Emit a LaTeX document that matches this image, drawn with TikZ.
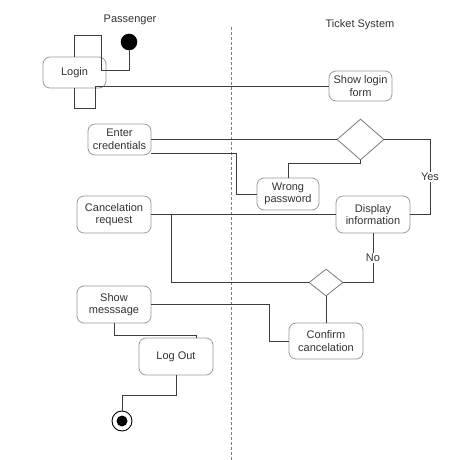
\documentclass[tikz,border=0pt]{standalone}
\usepackage{fontspec}
\setmainfont{Liberation Sans}
\usetikzlibrary{shapes.geometric,calc}
\definecolor{edgec}{HTML}{3C3C3C}
\definecolor{boxc}{HTML}{9A9A9A}
\definecolor{txtc}{HTML}{333333}
\begin{document}
\begin{tikzpicture}[x=1pt,y=-1pt,
  every node/.style={font=\fontsize{11}{12.5}\selectfont, text=txtc},
  act/.style={draw=boxc, line width=0.8pt, rounded corners=7pt, fill=white,
    align=center, inner sep=0pt},
  decision/.style={diamond, draw=boxc!80!black, line width=0.8pt, fill=white,
    inner sep=0pt},
  flow/.style={draw=edgec, line width=0.9pt},
  lbl/.style={fill=white, inner sep=1pt},
  lane/.style={draw=gray, line width=0.8pt, dash pattern=on 3pt off 2pt}]
\useasboundingbox (0,0) rectangle (475,460);

% swimlane headers and separator
\node (passenger) at (130,20) {Passenger};
\node (ticketsys) at (360,25) {Ticket System};
\draw[lane] (231,27) -- (231,460);

% start and end
\node[circle, fill=black, minimum size=16.6pt, inner sep=0pt] (init) at (129,42) {};
\node[circle, draw=black, line width=0.9pt, fill=white, minimum size=20pt, inner sep=0pt] (final) at (122,421) {};
\fill[black] (final.center) circle (5.5);

% activities
\node[act, minimum width=63pt, minimum height=31pt] (login) at (74.5,72.5) {Login};
\node[act, minimum width=63pt, minimum height=30pt] (showlogin) at (360.5,86) {Show login\\form};
\node[act, minimum width=63pt, minimum height=31pt] (enter) at (119.5,139.5) {Enter\\credentials};
\node[act, minimum width=62pt, minimum height=32pt] (wrong) at (288,194) {Wrong\\password};
\node[act, minimum width=74pt, minimum height=37pt] (display) at (373,214.5) {Display\\information};
\node[act, minimum width=74pt, minimum height=37pt] (cancel) at (114,214.5) {Cancelation\\request};
\node[act, minimum width=74pt, minimum height=36pt] (confirm) at (326,341) {Confirm\\cancelation};
\node[act, minimum width=74pt, minimum height=37pt] (showmsg) at (114,304.5) {Show\\messsage};
\node[act, minimum width=74pt, minimum height=37pt] (logout) at (176,356.5) {Log Out};

% decisions
\node[decision, minimum width=47pt, minimum height=41pt] (dec1) at (360.5,139.5) {};
\node[decision, minimum width=34pt, minimum height=27pt] (dec2) at (326,282.5) {};

% connectors
\draw[flow] (init.south) |- (101,70) -- (101,35) -| (login.north);
\draw[flow] (login.south) -- (74.5,108) -| (95,86) -- (showlogin.west);
\draw[flow] (enter.east) -- (dec1.west);
\draw[flow] ($(enter.east)+(0,13.5)$) -| ($(wrong.west)+(-20,0)$) -- (wrong.west);
\draw[flow] (wrong.north) |- ($(dec1.south)+(0,3)$) -- (dec1.south);
\draw[flow] (dec1.east) -- (430,139.5) -- node[lbl] {Yes} (430,214.5) -- (display.east);
\draw[flow] (cancel.east) -- (display.west);
\coordinate (split) at (171,214.5);
\draw[flow] (split) |- (dec2.west);
\draw[flow] (display.south) |- node[lbl, pos=0.25] {No} (dec2.east);
\draw[flow] (dec2.south) -- (confirm.north);
\draw[flow] (showmsg.east) -| (269,341) -- (confirm.west);
\draw[flow] (showmsg.south) |- ($(logout.north)+(20,-2.5)$) -- ($(logout.north)+(20,0)$);
\draw[flow] (logout.south) |- ($(final.north)+(0,-15)$) -- (final.north);
\end{tikzpicture}
\end{document}
